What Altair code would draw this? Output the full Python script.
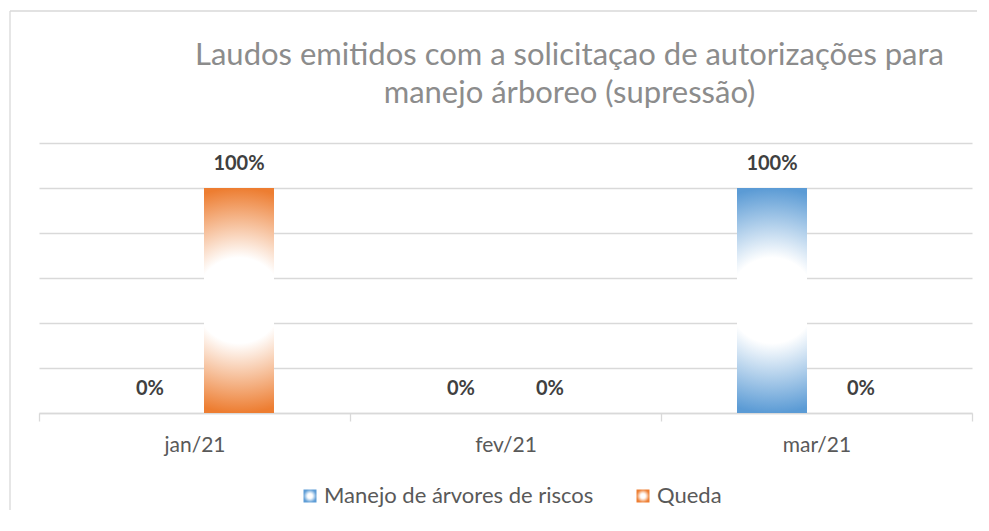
import altair as alt
import pandas as pd

months = ["jan/21", "fev/21", "mar/21"]
series = ["Manejo de árvores de riscos", "Queda"]
manejo = [0.0, 0.0, 1.0]
queda = [1.0, 0.0, 0.0]
series_colors = ["#5B9BD5", "#ED7D31"]
title_lines = ["Laudos emitidos com a solicitaçao  de autorizações  para",
               "manejo árboreo (supressão)"]

rows = []
for i, m in enumerate(months):
    rows.append({"mes": m, "serie": series[0], "valor": manejo[i]})
    rows.append({"mes": m, "serie": series[1], "valor": queda[i]})
df = pd.DataFrame(rows)


def grad(c):
    return alt.ExprRef(
        "{gradient: 'radial', x1: 0.5, y1: 0.5, r1: 0, x2: 0.5, y2: 0.5, r2: 0.5, "
        "stops: [{offset: 0, color: '#ffffff'}, {offset: 0.38, color: '#ffffff'}, "
        "{offset: 1, color: '" + c + "'}]}"
    )


x_enc = alt.X("mes:N", sort=months, scale=alt.Scale(paddingInner=0, paddingOuter=0),
              axis=alt.Axis(title=None, labelAngle=0, domainColor="#d9d9d9", domainWidth=1.3,
                            tickColor="#d9d9d9", tickWidth=1.3, tickSize=8, tickBand="extent",
                            labelColor="#595959", labelFont="Lato", labelFontSize=21,
                            labelPadding=13, grid=False))
xo_enc = alt.XOffset("serie:N", sort=series,
                     scale=alt.Scale(paddingInner=0.2135, paddingOuter=0.854))
y_enc = alt.Y("valor:Q", scale=alt.Scale(domain=[0, 1.2], nice=False),
              axis=alt.Axis(title=None, labels=False, ticks=False, domain=False,
                            values=[0, 0.2, 0.4, 0.6, 0.8, 1.0, 1.2],
                            gridColor="#d9d9d9", gridWidth=1.3))

base = alt.Chart(df)

bars = base.mark_bar().encode(
    x=x_enc,
    xOffset=xo_enc,
    y=y_enc,
    color=alt.Color("serie:N", sort=series,
                    scale=alt.Scale(domain=series, range=[grad(c) for c in series_colors]),
                    legend=alt.Legend(title=None, orient="none", direction="horizontal",
                                      legendX=260, legendY=342, symbolType="square",
                                      symbolSize=169, symbolStrokeWidth=0,
                                      labelFont="Lato", labelFontSize=22,
                                      labelColor="#595959", labelOffset=3,
                                      labelLimit=500, columnPadding=38)),
)

labels = base.mark_text(font="Lato", fontSize=20, fontWeight="bold", color="#404040",
                        baseline="middle", dy=-24).encode(
    x=alt.X("mes:N", sort=months),
    xOffset=alt.XOffset("serie:N", sort=series),
    y=alt.Y("valor:Q"),
    text=alt.Text("valor:Q", format=".0%"),
)

frame_df = pd.DataFrame({"k": [0]})
top_border = alt.Chart(frame_df).mark_rule(color="#d9d9d9", strokeWidth=1.3).encode(
    x=alt.value(-29), x2=alt.value(1000), y=alt.value(-132))
left_border = alt.Chart(frame_df).mark_rule(color="#d9d9d9", strokeWidth=1.3).encode(
    x=alt.value(-29), y=alt.value(-132), y2=alt.value(1000))

chart = alt.layer(bars, labels, top_border, left_border).properties(
    width=933,
    height=270,
    autosize=alt.AutoSizeParams(type="none"),
    padding={"left": 31, "top": 135, "right": 5, "bottom": 97},
    title=alt.TitleParams(text=title_lines, font="Lato", fontSize=31, fontWeight="normal",
                          color="#8c8c8c", anchor="middle", frame="group", dx=64,
                          offset=-100, lineHeight=38),
).configure_view(stroke=None)

chart.save("out.html", embed_options={"renderer": "svg", "actions": False})
